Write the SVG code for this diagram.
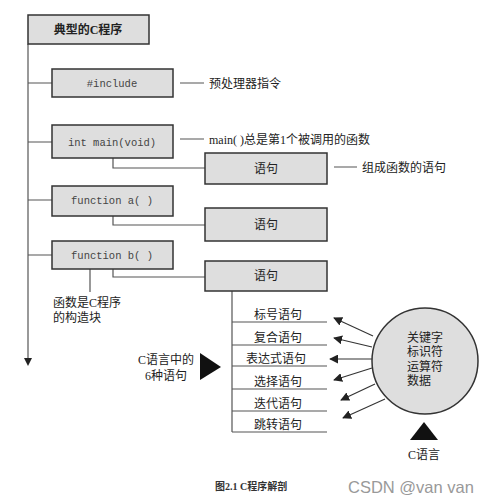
<svg xmlns="http://www.w3.org/2000/svg" width="492" height="504" viewBox="0 0 492 504">
<style>
.box{fill:#dedede;stroke:#333;stroke-width:1.5}
.ln{stroke:#555;stroke-width:1.2;fill:none}
.mono{font-family:"Liberation Mono",monospace;font-size:10.5px;fill:#444;text-anchor:middle}
.zh{font-family:"Liberation Serif","Noto Sans CJK SC",serif;font-size:12px;fill:#222}
.zhc{font-family:"Liberation Serif","Noto Sans CJK SC",serif;font-size:12px;fill:#222;text-anchor:middle}
.ar{stroke:#333;stroke-width:1.1;fill:none;marker-end:url(#ah)}
</style>
<defs>
<marker id="ah" viewBox="0 0 10 10" refX="9" refY="5" markerWidth="9" markerHeight="9" markerUnits="userSpaceOnUse" orient="auto">
<path d="M0,0 L10,5 L0,10 Z" fill="#222"/>
</marker>
<marker id="ah2" viewBox="0 0 10 10" refX="9" refY="5" markerWidth="8" markerHeight="8" markerUnits="userSpaceOnUse" orient="auto">
<path d="M0,0 L10,5 L0,10 L3,5 Z" fill="#222"/>
</marker>
</defs>
<rect width="492" height="504" fill="#fff"/>
<g id="connectors">
<path class="ln" d="M28,44 V360"/>
<path d="M24,358 L28,366 L32,358 Z" fill="#222"/>
<path class="ln" d="M28,83 H52 M28,142 H52 M28,200 H52 M28,255 H52"/>
<path class="ln" d="M113,158 V168 H205 M113,216 V225 H205 M113,269 V277 H205 M90,269 V292"/>
<path class="ln" d="M180,83 H204 M180,139 H204 M334,167 H357"/>
<path class="ln" d="M232,291 V432 M232,322 H327 M232,345 H327 M232,366 H327 M232,389 H327 M232,411 H327 M232,432 H327"/>
<path class="ar" d="M373,336 L334,318"/>
<path class="ar" d="M372,347 L334,338"/>
<path class="ar" d="M372,359 L330,359"/>
<path class="ar" d="M372,368 L334,380"/>
<path class="ar" d="M375,384 L341,400"/>
<path class="ar" d="M385,399 L343,418"/>
</g>
<g id="n-top"><rect class="box" x="28" y="15" width="121" height="29"/><text class="zhc" x="88" y="34" font-weight="bold">典型的C程序</text></g>
<g id="n-include"><rect class="box" x="52" y="69" width="121" height="28"/><text class="mono" x="112" y="87">#include</text></g>
<g id="n-main"><rect class="box" x="52" y="125" width="121" height="33"/><text class="mono" x="112" y="146">int main(void)</text></g>
<g id="n-funa"><rect class="box" x="52" y="186" width="121" height="30"/><text class="mono" x="112" y="204">function a( )</text></g>
<g id="n-funb"><rect class="box" x="52" y="241" width="121" height="28"/><text class="mono" x="112" y="259">function b( )</text></g>
<g id="n-stmt1"><rect class="box" x="205" y="153" width="122" height="31"/><text class="zhc" x="266" y="173">语句</text></g>
<g id="n-stmt2"><rect class="box" x="205" y="208" width="122" height="33"/><text class="zhc" x="266" y="229">语句</text></g>
<g id="n-stmt3"><rect class="box" x="205" y="261" width="122" height="30"/><text class="zhc" x="266" y="280">语句</text></g>
<g id="labels">
<text class="zh" x="209" y="88">预处理器指令</text>
<text class="zh" x="209" y="144">main( )总是第1个被调用的函数</text>
<text class="zh" x="362" y="172">组成函数的语句</text>
<text class="zh" x="53" y="307">函数是C程序</text>
<text class="zh" x="53" y="322">的构造块</text>
<text class="zhc" x="278" y="319">标号语句</text>
<text class="zhc" x="278" y="342">复合语句</text>
<text class="zhc" x="276" y="363">表达式语句</text>
<text class="zhc" x="278" y="386">选择语句</text>
<text class="zhc" x="278" y="408">迭代语句</text>
<text class="zhc" x="278" y="429">跳转语句</text>
<text class="zhc" x="166" y="364">C语言中的</text>
<text class="zhc" x="166" y="380">6种语句</text>
</g>
<g id="n-tri-left"><path d="M200,353 L221,367 L200,380 Z" fill="#111"/></g>
<g id="n-circle">
<circle cx="425" cy="361" r="53" fill="#dedede" stroke="#333" stroke-width="1.5"/>
<text class="zh" x="407" y="342">关键字</text>
<text class="zh" x="407" y="356">标识符</text>
<text class="zh" x="407" y="371">运算符</text>
<text class="zh" x="407" y="385">数据</text>
</g>
<g id="n-tri-c"><path d="M424,422 L438,440 L410,440 Z" fill="#111"/><text class="zhc" x="424" y="459">C语言</text></g>
<text x="215" y="490" font-family="Liberation Serif,'Noto Sans CJK SC',serif" font-size="10px" font-weight="bold" fill="#333">图2.1 C程序解剖</text>
<text x="348" y="493" font-family="Liberation Sans,sans-serif" font-size="16.5px" fill="#999">CSDN @van van</text>
</svg>
